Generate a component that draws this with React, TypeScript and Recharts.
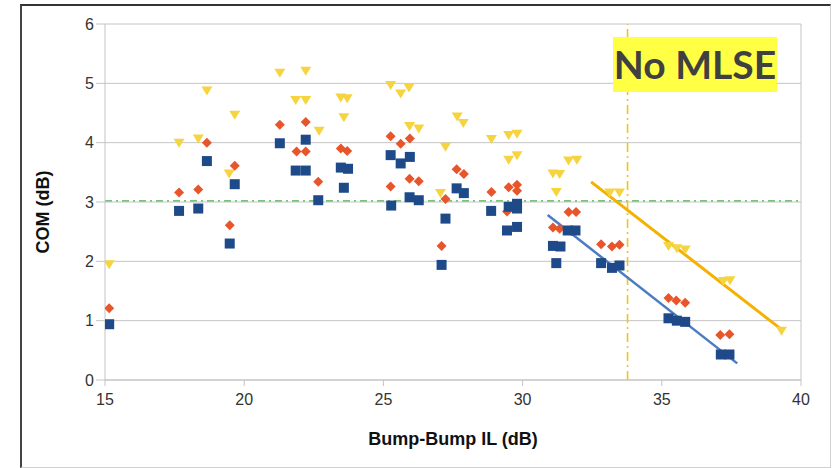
import React from "react"
import {
  ScatterChart, Scatter, XAxis, YAxis, CartesianGrid, ReferenceLine,
} from "recharts"

// ─── Data ─────────────────────────────────────────────────────────────────────
const X_TICKS = [15, 20, 25, 30, 35, 40]
const Y_TICKS = [0, 1, 2, 3, 4, 5, 6]

const YELLOW_PTS: [number, number][] = [
  [15.15, 1.95], [17.66, 4.0], [18.35, 4.07], [18.66, 4.88], [19.46, 3.48], [19.66, 4.47],
  [21.28, 5.18], [21.85, 4.72], [22.21, 4.72], [22.21, 5.21], [22.69, 4.2], [23.47, 4.76],
  [23.7, 4.75], [23.58, 4.43], [25.26, 4.97], [25.62, 4.83], [25.92, 4.93], [25.94, 4.28],
  [26.27, 4.24], [27.05, 3.15], [27.23, 3.93], [27.65, 4.44], [27.87, 4.33], [28.88, 4.06],
  [29.5, 4.13], [29.8, 4.15], [29.5, 3.71], [29.8, 3.79], [31.09, 3.48], [31.33, 3.47],
  [31.21, 3.17], [31.65, 3.7], [31.95, 3.71], [33.13, 3.16], [33.48, 3.16], [35.24, 2.26],
  [35.54, 2.22], [35.84, 2.2], [37.21, 1.67], [37.45, 1.68], [39.3, 0.83],
]

const ORANGE_PTS: [number, number][] = [
  [15.15, 1.21], [17.66, 3.16], [18.35, 3.21], [18.66, 4.0], [19.48, 2.61], [19.66, 3.61],
  [21.28, 4.3], [21.88, 3.85], [22.21, 3.85], [22.21, 4.35], [22.66, 3.34], [23.47, 3.9],
  [23.7, 3.86], [25.26, 4.11], [25.62, 3.98], [25.95, 4.07], [25.26, 3.26], [25.94, 3.39],
  [26.27, 3.35], [27.09, 2.26], [27.23, 3.05], [27.63, 3.55], [27.89, 3.47], [28.88, 3.17],
  [29.5, 3.25], [29.8, 3.29], [29.8, 3.19], [29.44, 2.84], [31.09, 2.57], [31.33, 2.55],
  [31.65, 2.83], [31.92, 2.83], [32.82, 2.29], [33.21, 2.25], [33.48, 2.28], [35.24, 1.38],
  [35.52, 1.34], [35.84, 1.3], [37.1, 0.76], [37.43, 0.77],
]

const BLUE_PTS: [number, number][] = [
  [15.15, 0.94], [17.66, 2.85], [18.35, 2.89], [18.66, 3.69], [19.48, 2.3], [19.66, 3.3],
  [21.28, 3.99], [21.85, 3.53], [22.21, 3.53], [22.21, 4.05], [22.66, 3.03], [23.47, 3.58],
  [23.73, 3.56], [23.58, 3.24], [25.26, 3.79], [25.62, 3.65], [25.95, 3.76], [25.28, 2.94],
  [25.94, 3.08], [26.27, 3.03], [27.09, 1.94], [27.23, 2.72], [27.63, 3.23], [27.89, 3.15],
  [28.87, 2.85], [29.5, 2.92], [29.8, 2.97], [29.8, 2.89], [29.44, 2.52], [29.8, 2.58],
  [31.09, 2.26], [31.36, 2.25], [31.21, 1.97], [31.62, 2.52], [31.9, 2.52], [32.82, 1.97],
  [33.21, 1.89], [33.48, 1.93], [35.24, 1.04], [35.54, 1.0], [35.84, 0.98], [37.12, 0.43],
  [37.43, 0.43],
]

// trend lines (start, end)
const BLUE_TREND: [number, number][] = [[30.9, 2.78], [37.71, 0.28]]
const ORANGE_TREND: [number, number][] = [[32.46, 3.34], [39.25, 0.87]]

const THRESHOLD_Y = 3.02
const MLSE_X = 33.77

// ─── Colours ──────────────────────────────────────────────────────────────────
const C_YELLOW = "#f5d440"
const C_ORANGE = "#e8552a"
const C_BLUE = "#1f4a8a"
const C_BLUE_LINE = "#4a7cc4"
const C_ORANGE_LINE = "#f5b000"
const C_GRID = "#c4c4c4"
const C_TEXT = "#333333"

const toPts = (arr: [number, number][]) => arr.map(([x, y]) => ({ x, y }))

// ─── Markers ──────────────────────────────────────────────────────────────────
function Square(props: any) {
  const { cx, cy } = props
  return <rect x={cx - 5} y={cy - 5} width={10} height={10} fill={C_BLUE} />
}

function Diamond(props: any) {
  const { cx, cy } = props
  const r = 5
  return (
    <polygon
      points={`${cx},${cy - r} ${cx + r},${cy} ${cx},${cy + r} ${cx - r},${cy}`}
      fill={C_ORANGE}
    />
  )
}

function TriDown(props: any) {
  const { cx, cy } = props
  return (
    <polygon
      points={`${cx - 5.5},${cy - 4} ${cx + 5.5},${cy - 4} ${cx},${cy + 5}`}
      fill={C_YELLOW}
    />
  )
}

const FONT = "'Liberation Sans', Arial, sans-serif"

export default function App() {
  return (
    <div style={{ position: "absolute", left: 0, top: 0, width: 832, height: 468, background: "#fff", fontFamily: FONT }}>
      {/* outer frame */}
      <div
        style={{
          position: "absolute", left: 20, top: 4, width: 808, height: 461,
          borderTop: "2px solid #333", borderLeft: "2px solid #444",
          borderRight: "1px solid #d0d0d0", borderBottom: "1px solid #d0d0d0",
        }}
      />

      <ScatterChart
        width={832}
        height={468}
        margin={{ top: 24, right: 31, bottom: 48, left: 45 }}
        style={{ position: "absolute", left: 0, top: 0 }}
      >
        <CartesianGrid vertical={false} stroke={C_GRID} strokeWidth={1} />

        <XAxis
          type="number"
          dataKey="x"
          domain={[15, 40]}
          ticks={X_TICKS}
          height={40}
          tickSize={6}
          tick={{ fontSize: 16, fill: C_TEXT, fontFamily: FONT, dy: 6 }}
          tickLine={{ stroke: C_GRID }}
          axisLine={{ stroke: C_GRID }}
          allowDataOverflow
        />
        <YAxis
          type="number"
          dataKey="y"
          domain={[0, 6]}
          ticks={Y_TICKS}
          width={60}
          tickSize={9}
          tick={{ fontSize: 16, fill: C_TEXT, fontFamily: FONT }}
          tickLine={{ stroke: C_GRID }}
          axisLine={{ stroke: C_GRID }}
          allowDataOverflow
        />

        {/* plot right border */}
        <ReferenceLine x={40} stroke={C_GRID} />

        <ReferenceLine y={THRESHOLD_Y} stroke="#4caf50" strokeWidth={1.3} strokeDasharray="7 4 2 4" />
        <ReferenceLine x={MLSE_X} stroke="#f0c419" strokeWidth={1.6} strokeDasharray="9 4 2 4" />

        <Scatter data={toPts(YELLOW_PTS)} shape={<TriDown />} isAnimationActive={false} />
        <Scatter data={toPts(ORANGE_PTS)} shape={<Diamond />} isAnimationActive={false} />
        <Scatter data={toPts(BLUE_PTS)} shape={<Square />} isAnimationActive={false} />

        <ReferenceLine segment={toPts(BLUE_TREND)} stroke={C_BLUE_LINE} strokeWidth={2.5} />
        <ReferenceLine segment={toPts(ORANGE_TREND)} stroke={C_ORANGE_LINE} strokeWidth={3} />
      </ScatterChart>

      {/* y axis title */}
      <div
        style={{
          position: "absolute", left: 43, top: 212, width: 0, height: 0,
        }}
      >
        <div
          style={{
            position: "absolute", left: -60, top: -11, width: 120, textAlign: "center",
            transform: "rotate(-90deg)", transformOrigin: "60px 11px",
            fontSize: 18, fontWeight: 700, color: "#111", lineHeight: "22px", whiteSpace: "nowrap",
          }}
        >
          COM (dB)
        </div>
      </div>

      {/* x axis title */}
      <div
        style={{
          position: "absolute", left: 105, width: 696, top: 429, textAlign: "center",
          fontSize: 18, fontWeight: 700, color: "#111", fontFamily: FONT,
        }}
      >
        Bump-Bump IL (dB)
      </div>

      {/* annotation */}
      <div
        style={{
          position: "absolute", left: 613, top: 37, width: 164, height: 55,
          background: "#ffff44", display: "flex", alignItems: "center", justifyContent: "center",
          fontFamily: "Lato, 'Open Sans', sans-serif", fontWeight: 700, fontSize: 39, color: "#404040",
          lineHeight: 1,
        }}
      >
        No MLSE
      </div>
    </div>
  )
}
